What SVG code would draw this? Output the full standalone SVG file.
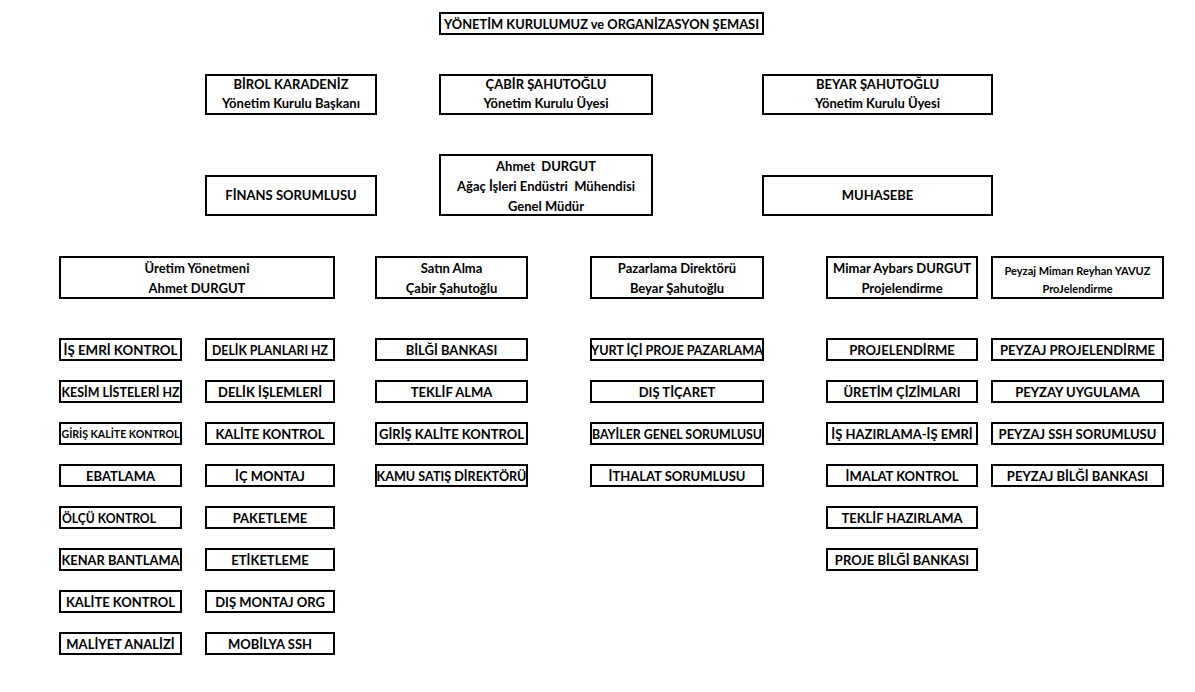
<svg xmlns="http://www.w3.org/2000/svg" width="1195" height="692" viewBox="0 0 1195 692">
<style>
rect.b{fill:#fff;stroke:#000;stroke-width:2}
text{font-family:Lato,"Liberation Sans",sans-serif;font-weight:bold;font-size:13px;text-anchor:middle;fill:#000;white-space:pre}
text.s{font-size:11px}
</style>
<rect width="1195" height="692" fill="#fff"/>
<g id="title"><rect class="b" x="440" y="13" width="323" height="21"/><text x="601.5" y="28.5" style="font-size:14px" textLength="315" lengthAdjust="spacingAndGlyphs">YÖNETİM KURULUMUZ ve ORGANİZASYON ŞEMASI</text></g>
<g id="birol"><rect class="b" x="206" y="75" width="170" height="39"/><text x="291" y="89">BİROL KARADENİZ</text><text x="291" y="108">Yönetim Kurulu Başkanı</text></g>
<g id="cabir"><rect class="b" x="440" y="75" width="212" height="39"/><text x="546" y="89">ÇABİR ŞAHUTOĞLU</text><text x="546" y="108">Yönetim Kurulu Üyesi</text></g>
<g id="beyar"><rect class="b" x="763" y="75" width="229" height="39"/><text x="877.5" y="89">BEYAR ŞAHUTOĞLU</text><text x="877.5" y="108">Yönetim Kurulu Üyesi</text></g>
<g id="finans"><rect class="b" x="206" y="176" width="170" height="39"/><text x="291" y="200">FİNANS SORUMLUSU</text></g>
<g id="ahmet"><rect class="b" x="440" y="155" width="212" height="60"/><text x="546" y="171" xml:space="preserve">Ahmet  DURGUT</text><text x="546" y="191" xml:space="preserve">Ağaç İşleri Endüstri  Mühendisi</text><text x="546" y="211">Genel Müdür</text></g>
<g id="muhasebe"><rect class="b" x="763" y="176" width="229" height="39"/><text x="877.5" y="200">MUHASEBE</text></g>
<g id="uretim"><rect class="b" x="60" y="257" width="274" height="41"/><text x="197" y="273">Üretim Yönetmeni</text><text x="197" y="293">Ahmet DURGUT</text></g>
<g id="satin"><rect class="b" x="376" y="257" width="151" height="41"/><text x="451.5" y="273">Satın Alma</text><text x="451.5" y="293">Çabir Şahutoğlu</text></g>
<g id="pazarlama"><rect class="b" x="591" y="257" width="172" height="41"/><text x="677" y="273">Pazarlama Direktörü</text><text x="677" y="293">Beyar Şahutoğlu</text></g>
<g id="mimar"><rect class="b" x="827" y="257" width="150" height="41"/><text x="902" y="273">Mimar Aybars DURGUT</text><text x="902" y="293">Projelendirme</text></g>
<g id="peyzaj"><rect class="b" x="992" y="257" width="171" height="41"/><text class="s" x="1077.5" y="275">Peyzaj Mimarı Reyhan YAVUZ</text><text class="s" x="1077.5" y="293">ProJelendirme</text></g>

<g id="a1"><rect class="b" x="60" y="339" width="121" height="21"/><text x="120.5" y="354.5" textLength="114" lengthAdjust="spacingAndGlyphs">İŞ EMRİ KONTROL</text></g>
<g id="a2"><rect class="b" x="60" y="381" width="121" height="21"/><text x="120.5" y="396.5" textLength="118" lengthAdjust="spacingAndGlyphs">KESİM LİSTELERİ HZ</text></g>
<g id="a3"><rect class="b" x="60" y="423" width="121" height="21"/><text class="s" x="120.5" y="438" textLength="118" lengthAdjust="spacingAndGlyphs">GİRİŞ KALİTE KONTROL</text></g>
<g id="a4"><rect class="b" x="60" y="465" width="121" height="21"/><text x="120.5" y="480.5">EBATLAMA</text></g>
<g id="a5"><rect class="b" x="60" y="507" width="121" height="21"/><text x="62" y="522.5" style="text-anchor:start" textLength="94" lengthAdjust="spacingAndGlyphs">ÖLÇÜ KONTROL</text></g>
<g id="a6"><rect class="b" x="60" y="549" width="121" height="21"/><text x="120.5" y="564.5" textLength="118" lengthAdjust="spacingAndGlyphs">KENAR BANTLAMA</text></g>
<g id="a7"><rect class="b" x="60" y="591" width="121" height="21"/><text x="120.5" y="606.5">KALİTE KONTROL</text></g>
<g id="a8"><rect class="b" x="60" y="633" width="121" height="21"/><text x="120.5" y="648.5">MALİYET ANALİZİ</text></g>

<g id="b1"><rect class="b" x="206" y="339" width="128" height="21"/><text x="270" y="354.5" textLength="116" lengthAdjust="spacingAndGlyphs">DELİK PLANLARI HZ</text></g>
<g id="b2"><rect class="b" x="206" y="381" width="128" height="21"/><text x="270" y="396.5">DELİK İŞLEMLERİ</text></g>
<g id="b3"><rect class="b" x="206" y="423" width="128" height="21"/><text x="270" y="438.5">KALİTE KONTROL</text></g>
<g id="b4"><rect class="b" x="206" y="465" width="128" height="21"/><text x="270" y="480.5">İÇ MONTAJ</text></g>
<g id="b5"><rect class="b" x="206" y="507" width="128" height="21"/><text x="270" y="522.5">PAKETLEME</text></g>
<g id="b6"><rect class="b" x="206" y="549" width="128" height="21"/><text x="270" y="564.5">ETİKETLEME</text></g>
<g id="b7"><rect class="b" x="206" y="591" width="128" height="21"/><text x="270" y="606.5">DIŞ MONTAJ ORG</text></g>
<g id="b8"><rect class="b" x="206" y="633" width="128" height="21"/><text x="270" y="648.5">MOBİLYA SSH</text></g>

<g id="c1"><rect class="b" x="376" y="339" width="151" height="21"/><text x="451.5" y="354.5">BİLĞİ BANKASI</text></g>
<g id="c2"><rect class="b" x="376" y="381" width="151" height="21"/><text x="451.5" y="396.5">TEKLİF ALMA</text></g>
<g id="c3"><rect class="b" x="376" y="423" width="151" height="21"/><text x="451.5" y="438.5">GİRİŞ KALİTE KONTROL</text></g>
<g id="c4"><rect class="b" x="376" y="465" width="151" height="21"/><text x="451.5" y="480.5" textLength="150" lengthAdjust="spacingAndGlyphs">KAMU SATIŞ DİREKTÖRÜ</text></g>

<g id="d1"><rect class="b" x="591" y="339" width="172" height="21"/><text x="677" y="354.5" textLength="172" lengthAdjust="spacingAndGlyphs">YURT İÇİ PROJE PAZARLAMA</text></g>
<g id="d2"><rect class="b" x="591" y="381" width="172" height="21"/><text x="677" y="396.5">DIŞ TİÇARET</text></g>
<g id="d3"><rect class="b" x="591" y="423" width="172" height="21"/><text x="677" y="438.5" textLength="170" lengthAdjust="spacingAndGlyphs">BAYİLER GENEL SORUMLUSU</text></g>
<g id="d4"><rect class="b" x="591" y="465" width="172" height="21"/><text x="677" y="480.5">İTHALAT SORUMLUSU</text></g>

<g id="e1"><rect class="b" x="827" y="339" width="150" height="21"/><text x="902" y="354.5">PROJELENDİRME</text></g>
<g id="e2"><rect class="b" x="827" y="381" width="150" height="21"/><text x="902" y="396.5">ÜRETİM ÇİZİMLARI</text></g>
<g id="e3"><rect class="b" x="827" y="423" width="150" height="21"/><text x="902" y="438.5">İŞ HAZIRLAMA-İŞ EMRİ</text></g>
<g id="e4"><rect class="b" x="827" y="465" width="150" height="21"/><text x="902" y="480.5">İMALAT KONTROL</text></g>
<g id="e5"><rect class="b" x="827" y="507" width="150" height="21"/><text x="902" y="522.5">TEKLİF HAZIRLAMA</text></g>
<g id="e6"><rect class="b" x="827" y="549" width="150" height="21"/><text x="902" y="564.5">PROJE BİLĞİ BANKASI</text></g>

<g id="f1"><rect class="b" x="992" y="339" width="171" height="21"/><text x="1077.5" y="354.5">PEYZAJ PROJELENDİRME</text></g>
<g id="f2"><rect class="b" x="992" y="381" width="171" height="21"/><text x="1077.5" y="396.5">PEYZAY UYGULAMA</text></g>
<g id="f3"><rect class="b" x="992" y="423" width="171" height="21"/><text x="1077.5" y="438.5">PEYZAJ SSH SORUMLUSU</text></g>
<g id="f4"><rect class="b" x="992" y="465" width="171" height="21"/><text x="1077.5" y="480.5">PEYZAJ BİLĞİ BANKASI</text></g>
<g id="connectors"></g>
</svg>
